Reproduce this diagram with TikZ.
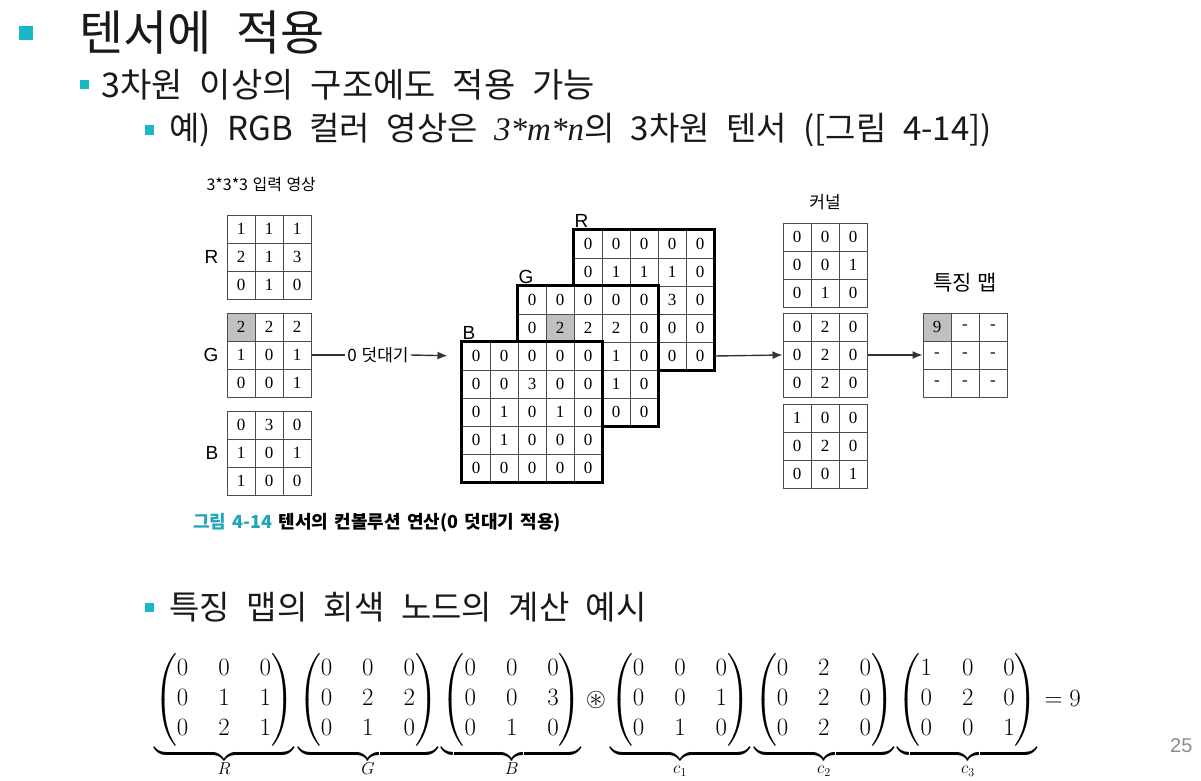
\documentclass[tikz,border=0pt]{standalone}
\usepackage{fontspec}
\usepackage{amsmath,amssymb}
\setmainfont{Liberation Serif}
\setsansfont{Liberation Sans}
\newfontfamily\kr{Noto Sans CJK KR}
\usetikzlibrary{arrows.meta}
\usetikzlibrary{positioning}
\definecolor{slidecyan}{RGB}{27,182,200}
\definecolor{capcyan}{RGB}{36,166,184}
\definecolor{cellgray}{RGB}{192,192,192}
\def\cellw{28}
\def\krsize#1{\fontsize{#1}{#1}\kr\spaceskip=.5em\relax}
\def\krtight#1{\fontsize{#1}{#1}\kr\spaceskip=.28em\relax}
\def\capfont{\fontsize{18}{18}\kr\bfseries\spaceskip=.35em\relax}
\def\cellfont{\fontsize{17}{17}\rmfamily}
\def\mat#1{{\begin{pmatrix}#1\end{pmatrix}}{\rule[-43pt]{0pt}{0pt}}}

% grid of cells: name, left, top, columns, gray cell index, values
\newcommand{\tgrid}[6]{%
  \foreach \val [count=\k from 0] in {#6} {
    \pgfmathtruncatemacro{\gr}{div(\k,#4)+1}
    \pgfmathtruncatemacro{\gc}{mod(\k,#4)+1}
    \ifnum\k=#5 \def\fc{cellgray}\else\def\fc{white}\fi
    \node[cell,fill=\fc] (#1-\gr-\gc) at ({#2+(\gc-0.5)*\cellw},{#3+(\gr-0.5)*\cellw}) {\val};
  }%
}

\begin{document}
\begin{tikzpicture}[x=1pt,y=-1pt,>={Latex[length=10pt,width=8pt]},
  cell/.style={draw=black!70,line width=1pt,minimum size=28pt,inner sep=0pt,font=\cellfont},
  layer/.style={line width=3pt,line cap=rect},
  bul/.style={fill=slidecyan,inner sep=0pt,minimum size=#1},
  rgb/.style={font=\fontsize{19}{19}\sffamily,inner sep=1pt},
  small/.style={font=\krtight{17},inner sep=2pt},
  link/.style={line width=1.4pt,draw=black!80}]

\fill[white] (0,0) rectangle (1201,781);
\useasboundingbox (0,0) rectangle (1201,781);

% slide text
\node[bul=14pt] (b1) at (25.5,33) {};
\node[anchor=west,font=\krsize{48},text=black!90] (t1) at (76,33) {텐서에 적용};
\node[bul=9pt] (b2) at (84,85) {};
\node[anchor=west,font=\krsize{34},text=black!90] (t2) at (98,85) {3차원 이상의 구조에도 적용 가능};
\node[bul=9pt] (b3) at (149,130) {};
\node[anchor=west,font=\krsize{33},text=black!90] (t3) at (166,130)
  {예) RGB 컬러 영상은 {\rmfamily\itshape 3*m*n}의 3차원 텐서 ([그림 4-14])};

% input
\node[anchor=west,font=\krtight{16}] (intitle) at (203,185) {3*3*3 입력 영상};
\tgrid{inR}{227}{215}{3}{-1}{1,1,1,2,1,3,0,1,0}
\tgrid{inG}{227}{313}{3}{0}{2,2,2,1,0,1,0,0,1}
\tgrid{inB}{227}{411}{3}{-1}{0,3,0,1,0,1,1,0,0}
\node[rgb,left=7pt of inR-2-1] (labinR) {R};
\node[rgb,left=7pt of inG-2-1] (labinG) {G};
\node[rgb,left=7pt of inB-2-1] (labinB) {B};

% padded layers
\tgrid{pR}{574}{230}{5}{-1}{0,0,0,0,0,0,1,1,1,0,0,2,1,3,0,0,0,1,0,0,0,0,0,0,0}
\draw[layer] (pR-1-1.north west) rectangle (pR-5-5.south east);
\tgrid{pG}{518}{286}{5}{6}{0,0,0,0,0,0,2,2,2,0,0,1,0,1,0,0,0,0,1,0,0,0,0,0,0}
\draw[layer] (pG-1-1.north west) rectangle (pG-5-5.south east);
\tgrid{pB}{462}{342}{5}{-1}{0,0,0,0,0,0,0,3,0,0,0,1,0,1,0,0,1,0,0,0,0,0,0,0,0}
\draw[layer] (pB-1-1.north west) rectangle (pB-5-5.south east);
\node[rgb,anchor=south west] (labpR) at ([yshift=1pt]pR-1-1.north west) {R};
\node[rgb,anchor=south west] (labpG) at ([yshift=1pt]pG-1-1.north west) {G};
\node[rgb,anchor=south west] (labpB) at ([yshift=1pt]pB-1-1.north west) {B};

% kernel and feature map
\tgrid{kA}{783}{223}{3}{-1}{0,0,0,0,0,1,0,1,0}
\tgrid{kB}{783}{313}{3}{-1}{0,2,0,0,2,0,0,2,0}
\tgrid{kC}{783}{404}{3}{-1}{1,0,0,0,2,0,0,0,1}
\node[small,above=10pt of kA-1-2] (klab) {커널};
\tgrid{fm}{923}{313}{3}{0}{9,-,-,-,-,-,-,-,-}
\node[font=\krtight{21},above=17pt of fm-1-2] (fmlab) {특징 맵};

% arrows
\node[small] (pad) at (378,355) {0 덧대기};
\draw[link] (inG-2-3.east) -- (pad.west);
\draw[link,->,shorten >=14pt] (pad.east) -- (pB-1-1.west);
\draw[link,->] (pR-5-5.east) -- (kB-2-1.west);
\draw[link,->] (kB-2-3.east) -- (fm-2-1.west);

\node[anchor=west,font=\capfont,inner sep=0pt] (cap) at (193,523)
  {\textcolor{capcyan}{그림 4-14} 텐서의 컨볼루션 연산(0 덧대기 적용)};

% calculation
\node[bul=9pt] (b4) at (149,607) {};
\node[anchor=west,font=\krsize{33},text=black!90] (t4) at (166,607) {특징 맵의 회색 노드의 계산 예시};
\node[anchor=base west,inner sep=0pt,font=\fontsize{26}{30}\selectfont] (eq) at (154,706)
  {\setlength{\arraycolsep}{15pt}$\underbrace{\mat{0&0&0\\0&1&1\\0&2&1}}_{R}
  \underbrace{\mat{0&0&0\\0&2&2\\0&1&0}}_{G}
  \underbrace{\mat{0&0&0\\0&0&3\\0&1&0}}_{B}
  \circledast
  \underbrace{\mat{0&0&0\\0&0&1\\0&1&0}}_{c_1}
  \underbrace{\mat{0&2&0\\0&2&0\\0&2&0}}_{c_2}
  \underbrace{\mat{1&0&0\\0&2&0\\0&0&1}}_{c_3}
  =9$};
\node[anchor=east,font=\fontsize{20}{20}\sffamily,text=black!45] (page) at (1196,746) {25};

\end{tikzpicture}
\end{document}
